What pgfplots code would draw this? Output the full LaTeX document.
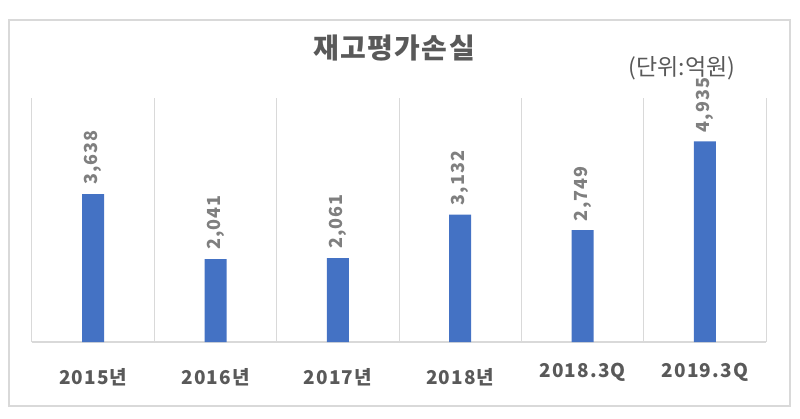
\documentclass[border=0pt]{standalone}
\usepackage{fontspec}
\setmainfont{Noto Sans CJK KR}
\usepackage{pgfplots}
\pgfplotsset{compat=1.18}
\definecolor{barblue}{HTML}{4472C4}
\definecolor{gridgray}{HTML}{D9D9D9}
\definecolor{lblgray}{HTML}{7F7F7F}
\definecolor{txtgray}{HTML}{595959}
\begin{document}
\begin{tikzpicture}
\path[use as bounding box] (0pt,0pt) rectangle (800pt,418pt);
\draw[gridgray, line width=1.5pt] (9pt,12pt) rectangle (790pt,398pt);
\node[text=txtgray] at (394pt,370pt) {\bfseries\fontsize{28}{30}\selectfont\addfontfeature{LetterSpace=5} 재고평가손실};
\node[text=txtgray] at (682pt,350pt) {\fontsize{23}{25}\selectfont (단위:억원)};
\begin{axis}[
  at={(32pt,76pt)}, anchor=south west,
  scale only axis, width=734pt, height=244pt,
  xmin=-0.5, xmax=5.5, ymin=0, ymax=6000,
  axis line style={draw=none},
  xtick={0,...,5},
  xticklabels={2015년,2016년,2017년,2018년,\raisebox{7pt}{2018.3Q},\raisebox{7pt}{2019.3Q}},
  major tick length=0pt, minor tick length=0pt,
  minor xtick={-0.5,0.5,...,5.5},
  xminorgrids, minor grid style={gridgray, line width=1pt},
  ytick={0}, yticklabels={}, ymajorgrids,
  major grid style={gridgray, line width=1.2pt},
  xticklabel style={font=\bfseries\fontsize{19}{21}\selectfont\addfontfeature{LetterSpace=6}, text=txtgray, anchor=base, yshift=-42pt},
  ybar, bar width=22pt,
  nodes near coords,
  nodes near coords style={rotate=90, anchor=west, inner xsep=9pt, font=\bfseries\fontsize{18}{20}\selectfont\addfontfeature{LetterSpace=6}, text=lblgray},
  /pgf/number format/1000 sep={,},
  /pgf/number format/assume math mode=true,
]
\addplot[fill=barblue, draw=none] coordinates {(0,3638) (1,2041) (2,2061) (3,3132) (4,2749) (5,4935)};
\end{axis}
\end{tikzpicture}
\end{document}
